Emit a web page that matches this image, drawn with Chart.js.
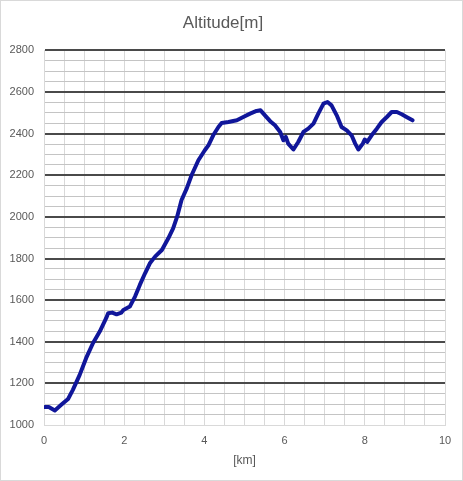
<!DOCTYPE html>
<html>
<head>
<meta charset="utf-8">
<script src="https://cdn.jsdelivr.net/npm/chart.js@4/dist/chart.umd.min.js"></script>
<style>
  html, body { margin: 0; padding: 0; background: #fff; }
  #wrap { width: 461px; height: 479px; border: 1px solid #d9d9d9; }
</style>
</head>
<body>
<div id="wrap"><canvas id="c" width="461" height="479"></canvas></div>
<script>
'use strict';

// ─── Data ─────────────────────────────────────────────────────────
const distanceKm = [
  0.02, 0.12, 0.27, 0.43, 0.60, 0.72, 0.89, 1.05, 1.22, 1.39,
  1.55, 1.60, 1.70, 1.81, 1.93, 1.98, 2.14, 2.27, 2.39, 2.52,
  2.64, 2.77, 2.94, 3.10, 3.22, 3.32, 3.43, 3.56, 3.68, 3.85,
  4.01, 4.10, 4.22, 4.35, 4.43, 4.60, 4.81, 4.97, 5.14, 5.30,
  5.40, 5.51, 5.64, 5.76, 5.89, 5.97, 6.03, 6.09, 6.22, 6.34,
  6.47, 6.59, 6.72, 6.84, 6.97, 7.07, 7.17, 7.30, 7.42, 7.55,
  7.67, 7.76, 7.84, 7.95, 8.00, 8.06, 8.17, 8.30, 8.42, 8.55,
  8.67, 8.80, 8.92, 9.04, 9.19
];
const altitudeM = [
  1086, 1086, 1070, 1097, 1125, 1169, 1241, 1321, 1393, 1449,
  1513, 1537, 1540, 1532, 1540, 1553, 1569, 1617, 1673, 1729,
  1777, 1809, 1841, 1897, 1945, 2001, 2081, 2137, 2200, 2272,
  2320, 2344, 2392, 2432, 2451, 2456, 2464, 2480, 2496, 2509,
  2512, 2488, 2460, 2440, 2408, 2368, 2384, 2352, 2324, 2360,
  2408, 2424, 2448, 2496, 2544, 2552, 2536, 2488, 2432, 2416,
  2392, 2352, 2324, 2352, 2372, 2360, 2392, 2424, 2456, 2480,
  2504, 2504, 2493, 2480, 2464
];
const yMin = 1000, yMax = 2800, yMinorStep = 50, yMajorStep = 200;
const xMin = 0, xMax = 10, xMinorStep = 0.5, xLabelStep = 2;

const txt = '#595959';
const gridLight = '#d9d9d9';
const gridMinorY = '#c4c4c4';
const gridDark = '#4a4a4a';
const font = "'Liberation Sans', Arial, sans-serif";

const points = distanceKm.map((x, i) => ({ x, y: altitudeM[i] }));

// major horizontal line? (the bottom edge stays light like the frame)
const isMajor = c => c.tick && c.tick.value % yMajorStep === 0 && c.tick.value !== yMin;

new Chart(document.getElementById('c').getContext('2d'), {
  type: 'scatter',
  data: {
    datasets: [{
      label: 'Altitude',
      data: points,
      showLine: true,
      borderColor: '#10169A',
      borderWidth: 4,
      borderCapStyle: 'round',
      borderJoinStyle: 'round',
      pointRadius: 0,
      tension: 0,
    }],
  },
  options: {
    responsive: false,
    animation: false,
    devicePixelRatio: 1,
    layout: { padding: { left: 0, right: 17, top: 0, bottom: 0 } },
    plugins: {
      legend: { display: false },
      tooltip: { enabled: false },
      title: {
        display: true,
        text: 'Altitude[m]',
        color: txt,
        font: { family: font, size: 17, weight: 'normal' },
        padding: { top: 12, bottom: 17 },
      },
    },
    scales: {
      x: {
        type: 'linear',
        min: xMin,
        max: xMax,
        afterFit: s => { s.height = 55; },
        grid: { color: gridLight, lineWidth: 1, drawTicks: false },
        border: { color: gridLight },
        ticks: {
          stepSize: xMinorStep,
          autoSkip: false,
          maxRotation: 0,
          padding: 9,
          color: txt,
          font: { family: font, size: 11 },
          callback: v => (v % xLabelStep === 0 ? v : ''),
        },
        title: {
          display: true,
          text: '[km]',
          color: txt,
          font: { family: font, size: 12 },
          padding: { top: 0, bottom: 12 },
        },
      },
      y: {
        min: yMin,
        max: yMax,
        afterFit: s => { s.width = 43; },
        grid: {
          drawTicks: false,
          color: c => (isMajor(c) ? gridDark : (c.tick && c.tick.value === yMin ? gridLight : gridMinorY)),
          lineWidth: c => (isMajor(c) ? 2 : 1),
        },
        border: { color: gridLight },
        ticks: {
          stepSize: yMinorStep,
          autoSkip: false,
          padding: 10,
          color: txt,
          font: { family: font, size: 11 },
          callback: v => (v % yMajorStep === 0 ? v : ''),
        },
      },
    },
  },
});
</script>
</body>
</html>
